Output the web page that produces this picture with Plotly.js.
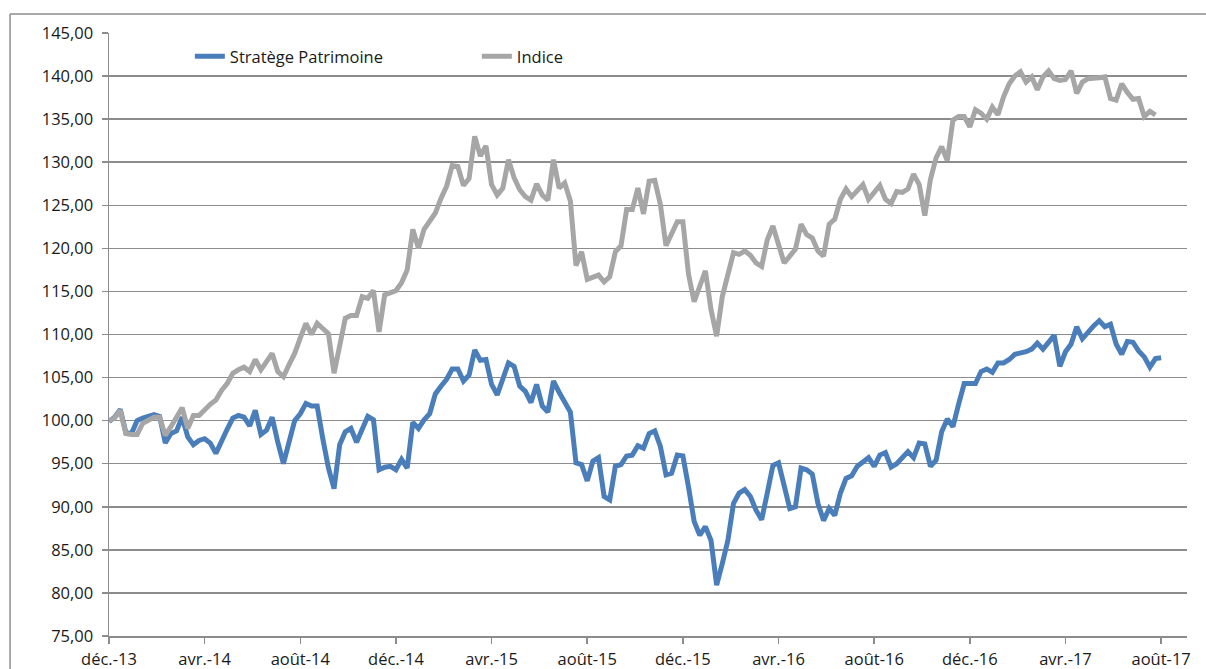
<!DOCTYPE html>
<html>
<head>
<meta charset="utf-8">
<script src="https://cdn.plot.ly/plotly-3.0.1.min.js"></script>
<style>
html,body{margin:0;padding:0;background:#fff;}
#chart{width:1206px;height:669px;}
</style>
</head>
<body>
<div id="chart"></div>
<script>
// Weekly observations, index 0 = late Dec 2013
const strategie = [
 99.9,100.4,101.3,98.6,98.5,100.0,100.3,100.5,100.7,100.5,
 97.4,98.5,98.8,100.4,98.1,97.2,97.7,97.9,97.4,96.2,
 97.7,99.0,100.3,100.6,100.4,99.4,101.2,98.4,98.9,100.4,
 97.5,95.0,97.5,100.0,100.8,102.0,101.7,101.7,97.9,94.5,
 92.1,97.2,98.7,99.1,97.5,99.0,100.5,100.1,94.3,94.6,
 94.7,94.3,95.5,94.5,99.8,99.1,100.1,100.8,103.1,104.0,
 104.8,106.0,106.0,104.6,105.3,108.2,107.0,107.1,104.2,103.0,
 104.7,106.7,106.3,104.0,103.4,102.1,104.2,101.7,101.0,104.6,
 103.3,102.2,101.0,95.1,94.9,93.0,95.3,95.7,91.2,90.8,
 94.7,94.9,95.9,96.0,97.1,96.8,98.5,98.8,97.0,93.7,
 93.9,96.0,95.9,92.3,88.3,86.7,87.7,86.1,80.9,83.4,
 86.1,90.4,91.6,92.0,91.2,89.6,88.5,91.6,94.8,95.1,
 92.7,89.8,90.0,94.5,94.3,93.8,90.4,88.4,89.8,89.0,
 91.6,93.3,93.6,94.7,95.2,95.7,94.7,96.0,96.3,94.6,
 95.0,95.8,96.4,95.7,97.4,97.3,94.7,95.4,98.7,100.2,
 99.3,101.9,104.3,104.3,104.3,105.7,106.0,105.6,106.7,106.7,
 107.1,107.7,107.8,108.0,108.3,109.0,108.3,109.0,109.9,106.3,
 108.0,108.9,110.9,109.5,110.3,111.0,111.6,110.9,111.2,108.9,
 107.7,109.2,109.1,108.1,107.4,106.2,107.2,107.3
];
const indice = [
 100.0,100.3,101.2,98.5,98.4,98.4,99.7,100.0,100.4,100.4,
 98.3,99.3,100.4,101.5,99.1,100.6,100.6,101.3,101.9,102.4,
 103.5,104.3,105.5,105.9,106.2,105.7,107.1,105.9,106.9,107.8,
 105.7,105.1,106.5,107.8,109.6,111.3,110.0,111.3,110.7,110.1,
 105.5,108.7,111.9,112.2,112.2,114.4,114.2,115.1,110.3,114.6,
 114.9,115.1,116.0,117.5,122.2,120.0,122.2,123.1,124.1,125.8,
 127.2,129.6,129.5,127.3,128.1,133.0,130.7,131.9,127.4,126.2,
 127.0,130.3,128.2,126.8,126.0,125.6,127.5,126.2,125.6,130.3,
 127.0,127.6,125.5,118.0,119.6,116.4,116.6,116.9,116.1,116.7,
 119.6,120.3,124.5,124.5,127.0,124.0,127.8,127.9,125.1,120.3,
 121.7,123.1,123.1,117.0,113.8,115.6,117.4,112.9,109.8,114.4,
 117.1,119.5,119.3,119.7,119.2,118.3,117.9,121.0,122.6,120.2,
 118.3,119.1,119.9,122.8,121.6,121.2,119.7,119.1,122.8,123.4,
 125.7,126.9,126.0,126.7,127.4,125.7,126.5,127.3,125.7,125.2,
 126.6,126.5,126.9,128.6,127.4,123.8,128.0,130.5,131.8,130.2,
 134.9,135.3,135.3,134.1,136.1,135.7,135.0,136.4,135.5,137.6,
 139.1,140.0,140.5,139.3,139.9,138.4,139.9,140.6,139.7,139.5,
 139.6,140.6,138.0,139.3,139.7,139.7,139.8,139.9,137.4,137.2,
 139.1,138.1,137.3,137.4,135.3,135.9,135.5
];
const seriesNames = ['Stratège Patrimoine', 'Indice'];
const tickLabels = ['déc.-13','avr.-14','août-14','déc.-14','avr.-15','août-15','déc.-15','avr.-16','août-16','déc.-16','avr.-17','août-17'];
const weeksPerTick = 17;

const weeks = strategie.map((_, i) => i);
const tickPositions = tickLabels.map((_, i) => i * weeksPerTick);

const font = {family: 'Open Sans, Liberation Sans, sans-serif', size: 16.5, color: '#1a1a1a'};

const traces = [
  {x: weeks, y: strategie, name: seriesNames[0], type: 'scatter', mode: 'lines',
   line: {color: '#4a7ebb', width: 5}},
  {x: weeks.slice(0, indice.length), y: indice, name: seriesNames[1], type: 'scatter', mode: 'lines',
   line: {color: '#a6a6a6', width: 5}}
];

const layout = {
  width: 1206, height: 669,
  margin: {l: 109, r: 19, t: 33, b: 33, pad: 0},
  paper_bgcolor: '#fff', plot_bgcolor: '#fff',
  separators: ',.',
  font: font,
  showlegend: true,
  legend: {orientation: 'h', x: 0.075, y: 0.99, xanchor: 'left', yanchor: 'top',
           entrywidth: 242, entrywidthmode: 'pixels', font: font, bgcolor: 'rgba(0,0,0,0)'},
  xaxis: {range: [0, 191.6], tickmode: 'array', tickvals: tickPositions, ticktext: tickLabels,
          showgrid: false, zeroline: false, showline: true, linecolor: '#8c8c8c', linewidth: 1.5,
          ticks: 'outside', ticklen: 6, tickcolor: '#8c8c8c', tickwidth: 1.5, tickfont: font,
          ticklabelstandoff: 2, fixedrange: true},
  yaxis: {range: [75, 145], dtick: 5, tick0: 75, tickformat: '.2f',
          showgrid: true, gridcolor: '#8c8c8c', gridwidth: 1.5, zeroline: false,
          showline: true, linecolor: '#8c8c8c', linewidth: 1.5,
          ticks: 'outside', ticklen: 6, tickcolor: '#8c8c8c', tickwidth: 1.5, tickfont: font,
          ticklabelstandoff: 5, fixedrange: true},
  shapes: [
    {type: 'line', xref: 'paper', yref: 'paper', x0: -0.0918, x1: 1.02, y0: 1.0315, y1: 1.0315,
     line: {color: '#8c8c8c', width: 1.5}},
    {type: 'line', xref: 'paper', yref: 'paper', x0: -0.0918, x1: -0.0918, y0: 1.0315, y1: -0.06,
     line: {color: '#8c8c8c', width: 1.5}}
  ]
};

Plotly.newPlot('chart', traces, layout, {displayModeBar: false, staticPlot: true});
</script>
</body>
</html>
